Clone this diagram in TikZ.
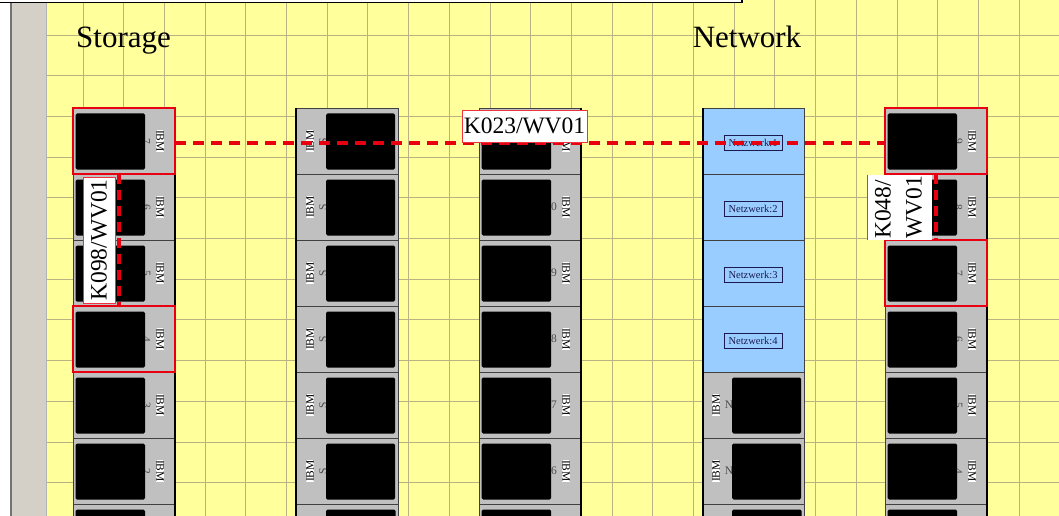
\documentclass[tikz,border=0pt]{standalone}
\usepackage{fontspec}
\setmainfont{Liberation Serif}
\definecolor{bgyellow}{HTML}{FFFF9C}
\definecolor{gridc}{HTML}{BAB283}
\definecolor{unitgray}{HTML}{C0C0C0}
\definecolor{netblue}{HTML}{99CCFF}
\definecolor{wingray}{HTML}{D4D0C8}
\definecolor{hlred}{HTML}{E80010}
\definecolor{navy}{HTML}{1A1A50}
\tikzset{
  unitbox/.style={draw=black!75, line width=0.8pt, fill=unitgray, minimum width=102pt, minimum height=66pt, inner sep=0pt, outer sep=0pt},
  netbox/.style={draw=black!75, line width=0.8pt, fill=netblue, minimum width=102pt, minimum height=66pt, inner sep=0pt, outer sep=0pt},
  netlabel/.style={draw=navy, line width=0.8pt, inner sep=1.5pt, minimum width=58pt, minimum height=15pt, font=\fontsize{10.5}{11}\selectfont, text=navy},
  ibm/.style={fill=white, inner sep=0.6pt, font=\fontsize{11.5}{12}\selectfont},
  digit/.style={inner sep=0pt, font=\fontsize{11.5}{12}\selectfont, text=black!70},
  thickedge/.style={line width=2pt, black},
  hlbox/.style={draw=hlred, line width=2.6pt},
  conn/.style={draw=hlred, line width=3.2pt, dash pattern=on 11pt off 7pt},
  title/.style={font=\fontsize{31}{36}\selectfont, inner sep=0pt, anchor=base},
  klabel/.style={fill=white, draw=hlred!80, line width=0.7pt, inner sep=1pt, font=\fontsize{23.5}{30}\selectfont}
}
% right-labelled unit: name, left x, top y, digit, digit rotation
\newcommand{\rightunit}[5]{%
  \node[unitbox] (#1) at (#2+51,#3+33) {};
  \node[digit, rotate=#5] (#1d) at (#2+73.5,#3+33) {#4};
  \fill[black, rounded corners=1.5pt] (#2+2.5,#3+5.5) rectangle (#2+72,#3+61.5);
  \node[ibm, rotate=-90] (#1i) at (#2+87,#3+33) {IBM};
}
\newcommand{\rightunitup}[4]{%
  \node[unitbox] (#1) at (#2+51,#3+33) {};
  \node[digit, anchor=east] (#1d) at (#2+78,#3+33) {#4};
  \fill[black, rounded corners=1.5pt] (#2+2.5,#3+5.5) rectangle (#2+72,#3+61.5);
  \node[ibm, rotate=-90] (#1i) at (#2+87,#3+33) {IBM};
}
% left-labelled unit: name, left x, top y, letter, rotation
\newcommand{\leftunit}[5]{%
  \node[unitbox] (#1) at (#2+51,#3+33) {};
  \node[digit, rotate=#5] (#1d) at (#2+27,#3+33) {#4};
  \fill[black, rounded corners=1.5pt] (#2+30,#3+5.5) rectangle (#2+99,#3+61.5);
  \node[ibm, rotate=90] (#1i) at (#2+14,#3+33) {IBM};
}
% bottom units, cut off by the edge: name, left x, black rect offset
\newcommand{\cutunit}[3]{%
  \node[unitbox] (#1) at (#2+51,537) {};
  \fill[black, rounded corners=1.5pt] (#2+#3,509.5) rectangle (#2+#3+69.5,565.5);
}
\begin{document}
\begin{tikzpicture}[x=1pt,y=-1pt]
\useasboundingbox (0,0) rectangle (1059,516);
\fill[white] (0,0) rectangle (1059,516);
% yellow sheet with grid
\fill[bgyellow] (47,0) rectangle (1059,516);
\foreach \i in {0,...,23} {
  \draw[gridc, line width=0.9pt] (83+40.7*\i,0) -- (83+40.7*\i,516);
}
\foreach \j in {0,...,11} {
  \draw[gridc, line width=0.9pt] (47,35+40.7*\j) -- (1059,35+40.7*\j);
}
% window frame on the left and bar on top
\fill[wingray] (12,0) rectangle (47,516);
\draw[black!55, line width=1.2pt] (11,0) -- (11,516);
\draw[black!30, line width=0.6pt] (46.5,0) -- (46.5,516);
\fill[white] (0,0) rectangle (742,2.5);
\draw[black, line width=1.6pt] (0,2.5) -- (742,2.5) -- (742,0);
% titles
\node[title] (storage) at (123.5,48) {Storage};
\node[title] (network) at (747,48) {Network};
% column 1 (storage)
\foreach \k in {1,...,6} {
  \pgfmathtruncatemacro\dg{8-\k}
  \pgfmathsetmacro\tp{108+66*(\k-1)}
  \rightunit{c1u\k}{73}{\tp}{\dg}{-90}
}
\cutunit{c1u7}{73}{2.5}
\draw[thickedge] (175,108) -- (175,516);
% column 2
\foreach \k in {1,...,6} {
  \pgfmathsetmacro\tp{108+66*(\k-1)}
  \leftunit{c2u\k}{296}{\tp}{S}{90}
}
\cutunit{c2u7}{296}{30}
\draw[thickedge] (296,108) -- (296,516);
% column 3
\foreach \k in {1,...,6} {
  \pgfmathtruncatemacro\dg{12-\k}
  \pgfmathsetmacro\tp{108+66*(\k-1)}
  \rightunitup{c3u\k}{479}{\tp}{\dg}
}
\cutunit{c3u7}{479}{2.5}
\draw[thickedge] (581,108) -- (581,516);
% column 4 (network)
\foreach \k in {1,...,4} {
  \pgfmathsetmacro\tp{108+66*(\k-1)}
  \node[netbox] (c4u\k) at (753,\tp+33) {};
  \node[netlabel] (nl\k) at (753,\tp+35) {Netzwerk:\k};
}
\foreach \k in {5,6} {
  \pgfmathsetmacro\tp{108+66*(\k-1)}
  \leftunit{c4u\k}{702}{\tp}{N}{0}
}
\cutunit{c4u7}{702}{30}
\draw[thickedge] (703,108) -- (703,516);
% column 5
\foreach \k in {1,...,6} {
  \pgfmathtruncatemacro\dg{10-\k}
  \pgfmathsetmacro\tp{108+66*(\k-1)}
  \rightunit{c5u\k}{885}{\tp}{\dg}{-90}
}
\cutunit{c5u7}{885}{2.5}
\draw[thickedge] (987,108) -- (987,516);
% highlighted units
\draw[hlbox] (c1u1.north west) rectangle (c1u1.south east);
\draw[hlbox] (c1u4.north west) rectangle (c1u4.south east);
\draw[hlbox] (c5u1.north west) rectangle (c5u1.south east);
\draw[hlbox] (c5u3.north west) rectangle (c5u3.south east);
% connections
\coordinate (hline) at (0,143);
\coordinate (vleft) at (119,0);
\coordinate (vright) at (936,0);
\draw[conn] (c1u1.east |- hline) -- (c5u1.west |- hline);
\draw[conn, dash pattern=on 10pt off 6pt] (c1u1.south -| vleft) -- (c1u4.north -| vleft);
\draw[conn, dash pattern=on 10pt off 6pt] (c5u1.south -| vright) -- (c5u3.north -| vright);
% connection labels
\node[klabel, minimum width=125pt, minimum height=32pt] (k023) at (524.5,126) {K023/WV01};
\node[klabel, minimum width=32pt, minimum height=126pt] (k098) at (99,240) {\rotatebox{90}{K098/WV01}};
\node[fill=white, inner sep=0pt, minimum width=64pt, minimum height=65pt, font=\fontsize{23.5}{31}\selectfont] (k048) at (900,207.5) {\rotatebox{90}{\begin{tabular}{@{}l@{}}K048/\\WV01\end{tabular}}};
\draw[hlred!80, line width=0.7pt] (k048.north west) -- (k048.south west);
\end{tikzpicture}
\end{document}
